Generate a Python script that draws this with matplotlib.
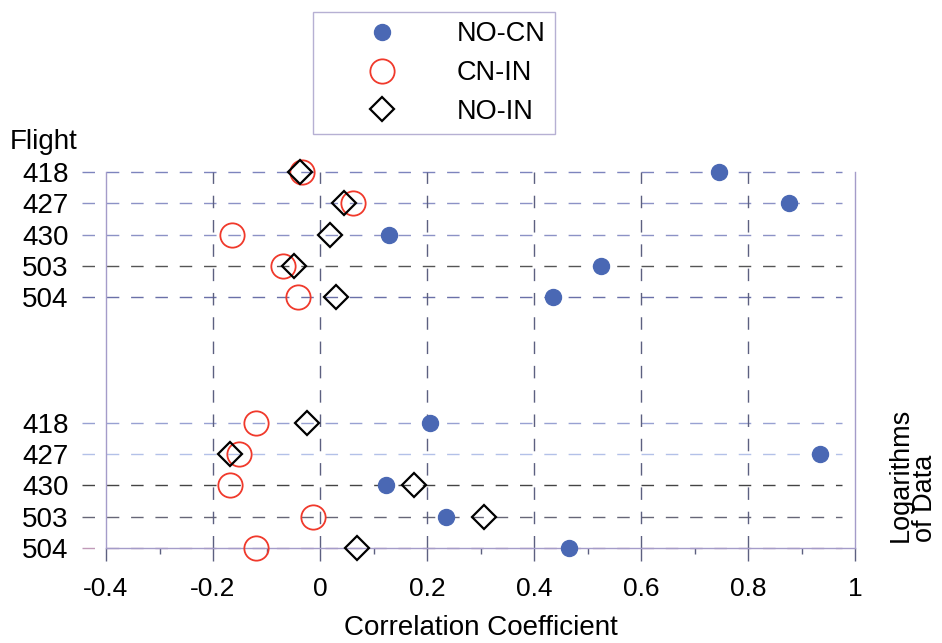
import matplotlib
matplotlib.use('Agg')
import matplotlib.pyplot as plt
from matplotlib.lines import Line2D
import numpy as np

# ── Data ───────────────────────────────────────────────────────────────
flights = ['418', '427', '430', '503', '504']

# raw data (upper block)
no_cn_raw = [0.745, 0.876, 0.129, 0.526, 0.436]
cn_in_raw = [-0.033, 0.062, -0.164, -0.070, -0.041]
no_in_raw = [-0.038, 0.045, 0.019, -0.049, 0.029]

# logarithms of data (lower block)
no_cn_log = [0.206, 0.935, 0.124, 0.236, 0.465]
cn_in_log = [-0.119, -0.151, -0.168, -0.013, -0.120]
no_in_log = [-0.025, -0.168, 0.176, 0.306, 0.070]

xticks = [-0.4, -0.2, 0, 0.2, 0.4, 0.6, 0.8, 1]
xtick_labels = ['-0.4', '-0.2', '0', '0.2', '0.4', '0.6', '0.8', '1']

# ── Style ──────────────────────────────────────────────────────────────
BLUE = '#4a68b4'
RED = '#f0392b'
FRAME = '#a49cc9'
GRID = '#5c6080'
ROW_COLORS_RAW = ['#7d84bd', '#8c92c6', '#8c92c6', '#555555', '#6a70a8']
ROW_COLORS_LOG = ['#98a1d2', '#b3c1e8', '#444444', '#666677', '#c09ab8']

plt.rcParams['font.family'] = ['Liberation Sans', 'DejaVu Sans']

W, H = 942, 643
fig = plt.figure(figsize=(W / 100, H / 100), dpi=100)
ax = fig.add_axes([106 / W, 1 - 548 / H, (855 - 106) / W, (548 - 172) / H])

raw_pos = [12, 11, 10, 9, 8]
log_pos = [4, 3, 2, 1, 0]

# row guide lines
for y, c in zip(raw_pos + log_pos, ROW_COLORS_RAW + ROW_COLORS_LOG):
    ax.plot([-0.445, 0.976], [y, y], color=c, lw=1.0,
            linestyle=(0, (9, 8.5)), clip_on=False, zorder=1)

# vertical grid
for xv in xticks[1:-1]:
    ax.axvline(xv, color=GRID, lw=1.0, linestyle=(0, (9, 8.5)), zorder=1)

for pos, ncn, cni, noi in [(raw_pos, no_cn_raw, cn_in_raw, no_in_raw),
                           (log_pos, no_cn_log, cn_in_log, no_in_log)]:
    ax.plot(ncn, pos, 'o', color=BLUE, ms=11.5, mec=BLUE, ls='none',
            clip_on=False, zorder=3)
    ax.plot(cni, pos, 'o', mfc='none', mec=RED, ms=17.5, mew=1.3, ls='none',
            clip_on=False, zorder=4)
    ax.plot(noi, pos, 'D', mfc='none', mec='black', ms=12, mew=1.6, ls='none',
            clip_on=False, zorder=5)

ax.set_xlim(-0.4, 1.0)
ax.set_ylim(0, 12)

ax.set_xticks(xticks)
ax.set_xticklabels(xtick_labels, fontsize=19)
ax.set_xticks(np.arange(-0.3, 1.0, 0.2), minor=True)
ax.tick_params(axis='x', which='major', length=9, width=1, color=GRID,
               direction='out', pad=12)
ax.tick_params(axis='x', which='minor', length=4, width=1, color=GRID,
               direction='out')

ax.set_yticks(raw_pos + log_pos)
ax.set_yticklabels(flights + flights, fontsize=20)
ax.tick_params(axis='y', length=0, pad=27)

for s in ['left', 'right', 'bottom']:
    ax.spines[s].set_color(FRAME)
    ax.spines[s].set_linewidth(1.0)
ax.spines['top'].set_visible(False)

ax.set_xlabel('Correlation Coefficient', fontsize=20, labelpad=10)

fig.text(10 / W, 1 - 149 / H, 'Flight', fontsize=20, va='baseline', ha='left')
fig.text(913 / W, 1 - 542 / H, 'Logarithms\nof Data', fontsize=19.5,
         rotation=90, va='bottom', ha='center', multialignment='left',
         linespacing=0.95)

handles = [
    Line2D([], [], marker='o', color=BLUE, ms=11.5, ls='none'),
    Line2D([], [], marker='o', mfc='none', mec=RED, ms=17.5, mew=1.3, ls='none'),
    Line2D([], [], marker='D', mfc='none', mec='black', ms=12, mew=1.6, ls='none'),
]
leg = fig.legend(handles, ['NO-CN', 'CN-IN', 'NO-IN'], fontsize=19.5,
                 loc='upper left', bbox_to_anchor=(313 / W, 1 - 12 / H),
                 frameon=True, fancybox=False, borderpad=0.35,
                 handlelength=4.4, handletextpad=0.55, labelspacing=0.47,
                 borderaxespad=0)
leg.get_frame().set_edgecolor(FRAME)
leg.get_frame().set_linewidth(1.0)

fig.savefig('out.png', dpi=100)
